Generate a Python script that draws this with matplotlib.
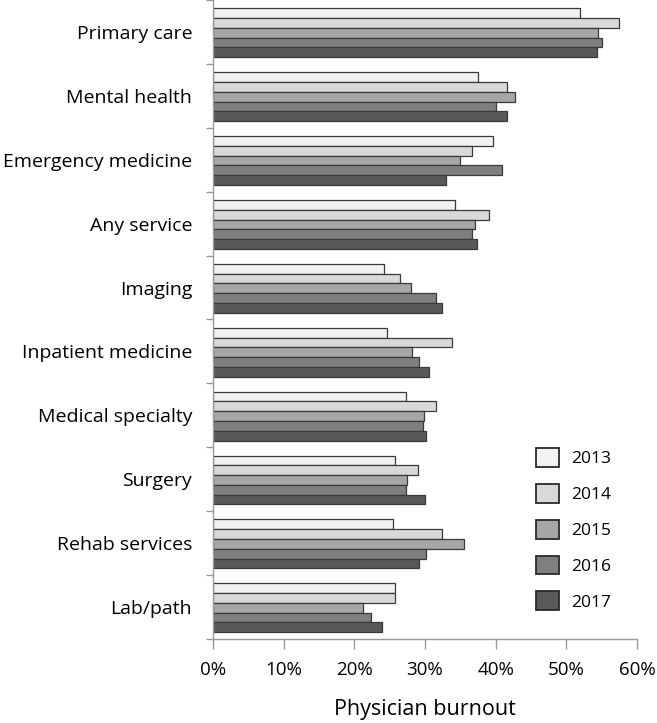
import matplotlib
matplotlib.use("Agg")
import matplotlib.pyplot as plt
import numpy as np
from matplotlib.patches import Patch

categories = ["Primary care", "Mental health", "Emergency medicine", "Any service",
              "Imaging", "Inpatient medicine", "Medical specialty", "Surgery",
              "Rehab services", "Lab/path"]
years = ["2013", "2014", "2015", "2016", "2017"]
v2013 = [51.9, 37.5, 39.6, 34.3, 24.2, 24.6, 27.3, 25.8, 25.4, 25.7]
v2014 = [57.4, 41.6, 36.7, 39.0, 26.4, 33.8, 31.5, 29.0, 32.4, 25.8]
v2015 = [54.5, 42.8, 35.0, 37.1, 28.0, 28.2, 29.9, 27.4, 35.5, 21.2]
v2016 = [55.0, 40.1, 40.9, 36.7, 31.6, 29.2, 29.7, 27.3, 30.2, 22.3]
v2017 = [54.3, 41.6, 32.9, 37.3, 32.4, 30.6, 30.2, 30.0, 29.2, 23.9]
series = [v2013, v2014, v2015, v2016, v2017]
colors = ["#f2f2f2", "#d9d9d9", "#a6a6a6", "#7f7f7f", "#595959"]

plt.rcParams['font.family'] = ['Open Sans', 'DejaVu Sans']

fig = plt.figure(figsize=(6.57, 7.23), dpi=100)
ax = fig.add_axes([0.3242, 0.1162, 0.6454, 0.8838])

n = len(categories)
y = np.arange(n)
bh = 0.153
for i, (vals, c) in enumerate(zip(series, colors)):
    ax.barh(y + (i - 2) * bh + 0.012, vals, height=bh, color=c,
            edgecolor="#3a3a3a", linewidth=0.9, label=years[i])

ax.set_ylim(n - 0.5, -0.5)
ax.set_xlim(0, 60)
ax.set_xticks(np.arange(0, 61, 10))
ax.set_xticklabels([f"{v}%" for v in range(0, 61, 10)], fontsize=13.5)
ax.set_yticks(y)
ax.set_yticklabels(categories, fontsize=14)
ax.tick_params(axis='y', which='major', length=0, pad=15)
ax.set_yticks(np.arange(-0.5, n + 0.5, 1), minor=True)
ax.tick_params(axis='y', which='minor', length=5, color="#9a9a9a", width=1)
ax.tick_params(axis='x', which='major', length=7, color="#9a9a9a", width=1, pad=9)
for s in ["top", "right"]:
    ax.spines[s].set_visible(False)
for s in ["left", "bottom"]:
    ax.spines[s].set_color("#9a9a9a")
    ax.spines[s].set_linewidth(1)
ax.set_xlabel("Physician burnout", fontsize=15.5, labelpad=14)

handles = [Patch(facecolor=c, edgecolor="#2a2a2a", linewidth=1.3, label=yr)
           for c, yr in zip(colors, years)]
leg = ax.legend(handles=handles, loc="lower right", bbox_to_anchor=(0.975, 0.02),
                frameon=False, fontsize=12.5, handlelength=1.3, handleheight=1.3,
                labelspacing=0.95, handletextpad=0.7)

fig.savefig("out.png", dpi=100)
